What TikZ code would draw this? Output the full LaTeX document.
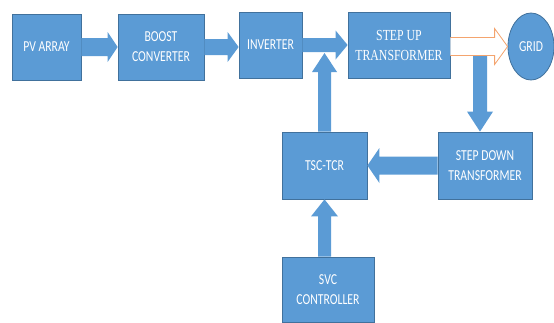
\documentclass[tikz,border=0pt]{standalone}
\usepackage{fontspec}
\usepackage{graphicx}
\setmainfont{Carlito}
\newfontfamily\serifb{Liberation Serif}
\usetikzlibrary{calc,shapes.geometric}
\definecolor{boxblue}{RGB}{91,155,213}
\definecolor{boxedge}{RGB}{65,113,156}
\definecolor{orangeedge}{RGB}{244,164,110}
\newcommand\st[1]{\scalebox{1}[1.3]{#1}}
% horizontal block arrow: start, end, shaft half, head half, signed head length
\newcommand\harr[5]{\fill[arrowfill] let \p1=(#1), \p2=(#2) in
  (\x1,\y1+#3) -- (\x2-#5,\y1+#3) -- (\x2-#5,\y1+#4) -- (\x2,\y1) --
  (\x2-#5,\y1-#4) -- (\x2-#5,\y1-#3) -- (\x1,\y1-#3) -- cycle;}
% vertical block arrow
\newcommand\varr[5]{\fill[arrowfill] let \p1=(#1), \p2=(#2) in
  (\x1-#3,\y1) -- (\x1-#3,\y2-#5) -- (\x1-#4,\y2-#5) -- (\x1,\y2) --
  (\x1+#4,\y2-#5) -- (\x1+#3,\y2-#5) -- (\x1+#3,\y1) -- cycle;}
\begin{document}
\begin{tikzpicture}[x=1pt,y=-1pt,
  blockbox/.style={draw=boxedge,line width=0.8pt,fill=boxblue,text=white,
    align=center,inner sep=0pt,font=\fontsize{11.7}{20}\selectfont},
  arrowfill/.style={fill=boxblue}]
\useasboundingbox (0,0) rectangle (554,322);
\node[blockbox,minimum width=69pt,minimum height=66pt] (pv) at (46.5,47) {\st{PV ARRAY}};
\node[blockbox,minimum width=86pt,minimum height=66pt] (boost) at (161,47) {\st{BOOST}\\\st{CONVERTER}};
\node[blockbox,minimum width=63pt,minimum height=66pt] (inv) at (270.5,45) {\st{INVERTER}};
\node[blockbox,minimum width=102pt,minimum height=66pt,font=\serifb\fontsize{11.8}{20}\selectfont] (su) at (399,45) {\st{STEP UP}\\\st{TRANSFORMER}};
\node[blockbox,ellipse,minimum width=46pt,minimum height=67pt] (grid) at (531,46.5) {\st{GRID}};
\node[blockbox,minimum width=94pt,minimum height=67pt] (sd) at (485,165.5) {\st{STEP DOWN}\\\st{TRANSFORMER}};
\node[blockbox,minimum width=85pt,minimum height=67pt] (tsc) at (324.5,165.5) {\st{TSC-TCR}};
\node[blockbox,minimum width=92pt,minimum height=65pt] (svc) at (328,289.5) {\st{SVC}\\\st{CONTROLLER}};
\coordinate (dsplit) at (480,56);
\coordinate (join) at (324.5,53);
% connectors
\harr{pv.east}{boost.west}{9pt}{15pt}{10pt}
\harr{boost.east}{inv.west}{8pt}{15pt}{11pt}
\harr{inv.east}{su.west}{7pt}{14.5pt}{12pt}
\fill[white,draw=orangeedge,line width=0.8pt] let \p1=(su.east |- grid.west), \p2=(grid.west) in
  (\x1,\y1+9pt) -- (\x2-13pt,\y1+9pt) -- (\x2-13pt,\y1+18pt) -- (\x2,\y1) --
  (\x2-13pt,\y1-18pt) -- (\x2-13pt,\y1-9pt) -- (\x1,\y1-9pt);
\varr{dsplit}{dsplit |- sd.north}{7pt}{13pt}{-20pt}
\harr{sd.west}{tsc.east}{9pt}{17.5pt}{-12pt}
\varr{tsc.north}{join}{6.5pt}{12.5pt}{19pt}
\varr{svc.north -| tsc.south}{tsc.south}{6.5pt}{13.5pt}{17pt}
\end{tikzpicture}
\end{document}
